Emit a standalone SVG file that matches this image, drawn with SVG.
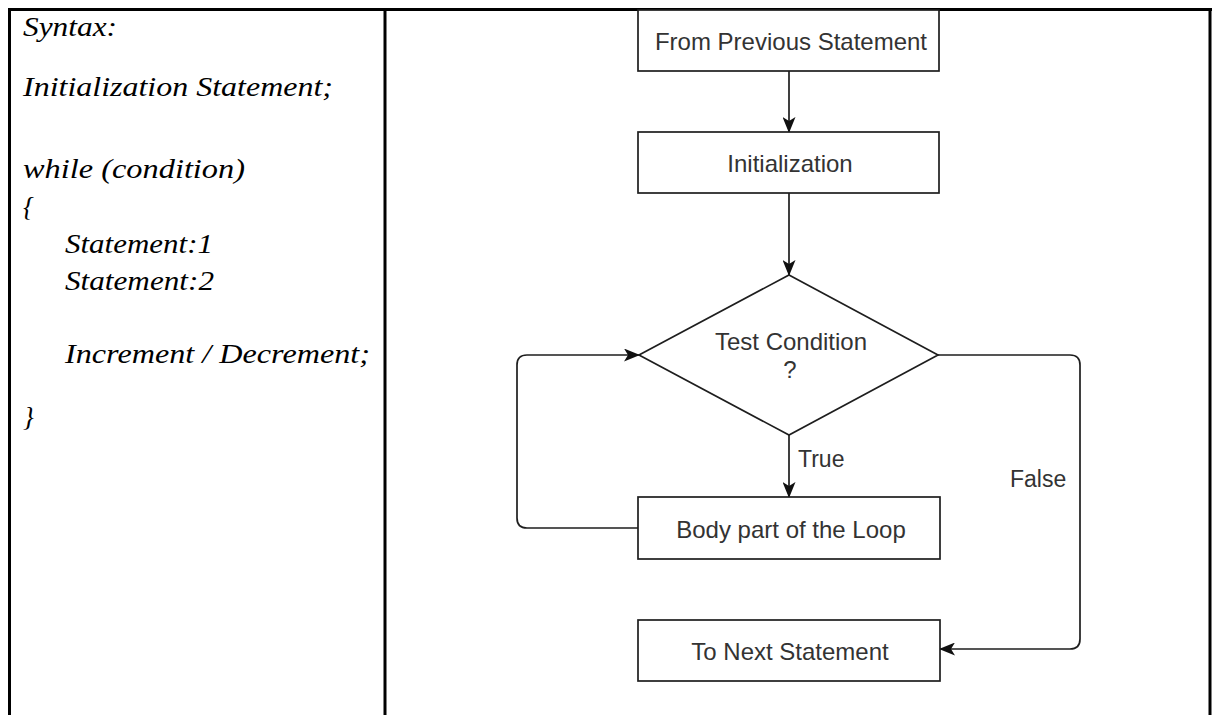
<svg xmlns="http://www.w3.org/2000/svg" width="1216" height="715" viewBox="0 0 1216 715">
<style>
.tbl{stroke:#000;stroke-width:3;fill:none}
.code{font-family:"Liberation Serif","Times New Roman",serif;font-style:italic;font-size:27px;fill:#000}
.box{fill:#fff;stroke:#1e1e1e;stroke-width:1.7}
.lbl{font-family:"Liberation Sans",Arial,sans-serif;font-size:24px;fill:#333;text-anchor:middle}
.edge{fill:none;stroke:#1e1e1e;stroke-width:1.7}
.elbl{font-family:"Liberation Sans",Arial,sans-serif;font-size:23px;fill:#333}
</style>
<defs>
<marker id="arr" viewBox="0 0 16 13" refX="15" refY="6.5" markerWidth="16" markerHeight="13" markerUnits="userSpaceOnUse" orient="auto">
<path d="M0,0 L16,6.5 L0,13 L4,6.5 z" fill="#111"/>
</marker>
</defs>
<rect width="1216" height="715" fill="#fff"/>
<g id="table">
<line class="tbl" x1="8" y1="9.5" x2="1212" y2="9.5"/>
<line class="tbl" x1="9.5" y1="8" x2="9.5" y2="715"/>
<line class="tbl" x1="385" y1="8" x2="385" y2="715"/>
<line class="tbl" x1="1210" y1="8" x2="1210" y2="715"/>
</g>
<g id="code">
<text class="code" x="23" y="36" textLength="94" lengthAdjust="spacingAndGlyphs">Syntax:</text>
<text class="code" x="23" y="96" textLength="310" lengthAdjust="spacingAndGlyphs">Initialization Statement;</text>
<text class="code" x="23" y="178" textLength="222" lengthAdjust="spacingAndGlyphs">while (condition)</text>
<text class="code" x="23" y="216">{</text>
<text class="code" x="65" y="253" textLength="148" lengthAdjust="spacingAndGlyphs">Statement:1</text>
<text class="code" x="65" y="290" textLength="149" lengthAdjust="spacingAndGlyphs">Statement:2</text>
<text class="code" x="65" y="363" textLength="305" lengthAdjust="spacingAndGlyphs">Increment / Decrement;</text>
<text class="code" x="23" y="426">}</text>
</g>
<g id="connectors">
<line class="edge" x1="789" y1="71" x2="789" y2="132" marker-end="url(#arr)"/>
<line class="edge" x1="789" y1="193" x2="789" y2="275" marker-end="url(#arr)"/>
<line class="edge" x1="789" y1="435" x2="789" y2="497" marker-end="url(#arr)"/>
<path class="edge" d="M638,528 H527 Q517,528 517,518 V365 Q517,355 527,355 H639" marker-end="url(#arr)"/>
<path class="edge" d="M938,355 H1070 Q1080,355 1080,365 V639 Q1080,649 1070,649 H940" marker-end="url(#arr)"/>
<text class="elbl" x="798" y="467">True</text>
<text class="elbl" x="1010" y="487">False</text>
</g>
<g id="from-previous">
<rect class="box" x="638" y="10" width="301" height="61"/>
<text class="lbl" x="791" y="50">From Previous Statement</text>
</g>
<g id="initialization">
<rect class="box" x="638" y="132" width="301" height="61"/>
<text class="lbl" x="790" y="172">Initialization</text>
</g>
<g id="test-condition">
<polygon class="box" points="789,275 938,355 789,435 639,355"/>
<text class="lbl" x="791" y="350">Test Condition</text>
<text class="lbl" x="790" y="378">?</text>
</g>
<g id="body">
<rect class="box" x="638" y="497" width="302" height="62"/>
<text class="lbl" x="791" y="538">Body part of the Loop</text>
</g>
<g id="next">
<rect class="box" x="638" y="620" width="302" height="61"/>
<text class="lbl" x="790" y="660">To Next Statement</text>
</g>
</svg>
